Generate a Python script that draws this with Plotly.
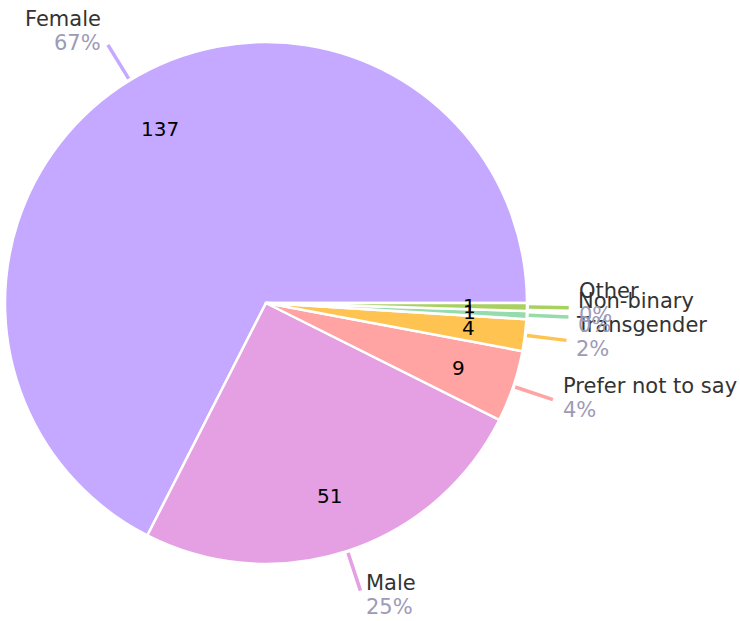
import math
import plotly.graph_objects as go

labels = ["Female", "Male", "Prefer not to say", "Transgender", "Non-binary", "Other"]
values = [137, 51, 9, 4, 1, 1]
colors = ["#c5a8ff", "#e4a0e3", "#ffa3a3", "#ffc352", "#95dbab", "#a9d160"]

W, H = 740, 621
CX, CY, R = 266, 303, 261
LABEL_FONT = "DejaVu Sans"
VALUE_FONT = "DejaVu Sans"
NAME_COLOR = "#333333"
PCT_COLOR = "#9d9bb7"

def px(x, y):
    return x / W, 1 - y / H

total = sum(values)
# first slice ends at 3 o'clock, slices run counterclockwise
rotation = 90 - values[0] / total * 360

fig = go.Figure()
fig.add_trace(go.Pie(
    labels=labels, values=values, sort=False, direction="counterclockwise",
    rotation=rotation, textinfo="none", hoverinfo="label+value+percent",
    marker=dict(colors=colors, line=dict(color="white", width=2.5)),
    domain=dict(x=[(CX - R) / W, (CX + R) / W], y=[1 - (CY + R) / H, 1 - (CY - R) / H]),
    showlegend=False,
))

annotations = []
shapes = []
cum = 0
for lab, v, col in zip(labels, values, colors):
    a0 = cum / total * 360
    cum += v
    a1 = cum / total * 360
    mid = math.radians((a0 + a1) / 2)
    c, s = math.cos(mid), math.sin(mid)
    # inside value
    ix, iy = px(CX + 0.78 * R * c, CY - 0.78 * R * s)
    annotations.append(dict(x=ix, y=iy, xref="paper", yref="paper", text=str(v),
                            showarrow=False, font=dict(family=VALUE_FONT, size=20, color="#000000"),
                            xanchor="center", yanchor="middle"))
    # leader line
    sx, sy = CX + (R + 2) * c, CY - (R + 2) * s
    ex, ey = CX + 1.16 * R * c, CY - 1.16 * R * s
    x0, y0 = px(sx, sy)
    x1, y1 = px(ex, ey)
    shapes.append(dict(type="line", xref="paper", yref="paper", x0=x0, y0=y0, x1=x1, y1=y1,
                       line=dict(color=col, width=3.5)))
    off = 1 + 7 * abs(c)
    if c >= 0:
        tx, anchor = ex + off, "left"
    else:
        tx, anchor = ex - off, "right"
    name_y = ey - 17 - 10 * s
    pct_y = name_y + 24
    pct = round(v / total * 100)
    nx, ny = px(tx, name_y)
    _, py_ = px(tx, pct_y)
    annotations.append(dict(
        x=nx, y=ny, xref="paper", yref="paper", showarrow=False, text=lab,
        font=dict(family=LABEL_FONT, size=21, color=NAME_COLOR),
        xanchor=anchor, yanchor="middle"))
    annotations.append(dict(
        x=nx, y=py_, xref="paper", yref="paper", showarrow=False, text=f"{pct}%",
        font=dict(family=LABEL_FONT, size=21, color=PCT_COLOR),
        xanchor=anchor, yanchor="middle"))

fig.update_layout(width=W, height=H, margin=dict(l=0, r=0, t=0, b=0),
                  paper_bgcolor="white", plot_bgcolor="white",
                  annotations=annotations, shapes=shapes)
fig.write_html("out.html", config={"displayModeBar": False},
               post_script="document.body.style.margin='0px';")
